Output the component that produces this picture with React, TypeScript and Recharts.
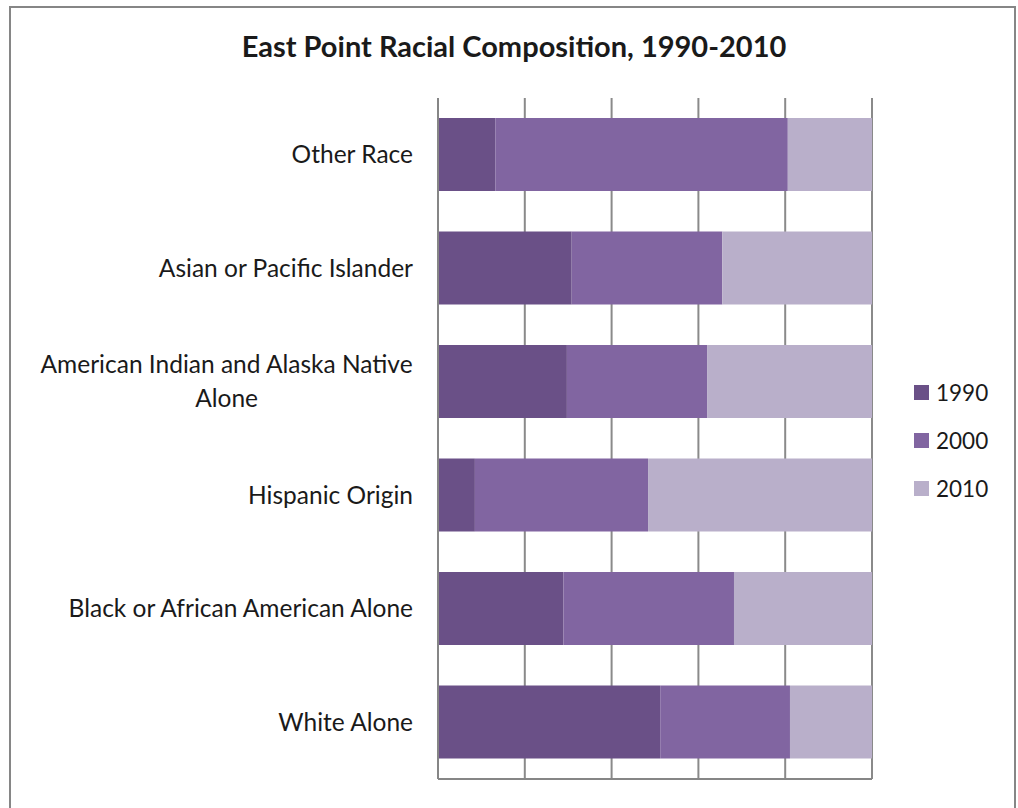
import React from 'react';
import { BarChart, Bar, XAxis, YAxis, CartesianGrid } from 'recharts';

// values (share of each group, in percent)
const categories = [
  'Other Race',
  'Asian or Pacific Islander',
  'American Indian and Alaska Native Alone',
  'Hispanic Origin',
  'Black or African American Alone',
  'White Alone',
];
const y1990 = [13.2, 30.8, 29.7, 8.5, 28.9, 51.2];
const y2000 = [67.4, 34.7, 32.3, 39.9, 39.3, 29.9];
const y2010 = [19.4, 34.5, 38.0, 51.6, 31.8, 18.9];
const seriesNames = ['1990', '2000', '2010'];
const xTicks = [0, 0.2, 0.4, 0.6, 0.8, 1];

const colors = ['#6a5087', '#8165a1', '#b9afca'];
const FONT = 'Lato, "Open Sans", sans-serif';
const LABEL_SIZE = 24.5;
const WRAP_WIDTH = 400;

const data = categories.map((name, i) => ({
  name,
  '1990': y1990[i],
  '2000': y2000[i],
  '2010': y2010[i],
}));

let measureCtx: CanvasRenderingContext2D | null = null;
function textWidth(s: string) {
  if (!measureCtx) measureCtx = document.createElement('canvas').getContext('2d');
  if (!measureCtx) return s.length * LABEL_SIZE * 0.5;
  measureCtx.font = `${LABEL_SIZE}px Lato`;
  return measureCtx.measureText(s).width;
}

function wrap(label: string) {
  const words = label.split(' ');
  const lines: string[] = [];
  let cur = '';
  words.forEach(w => {
    const next = cur ? cur + ' ' + w : w;
    if (cur && textWidth(next) > WRAP_WIDTH) {
      lines.push(cur);
      cur = w;
    } else {
      cur = next;
    }
  });
  if (cur) lines.push(cur);
  return lines;
}

const CategoryTick = (props: any) => {
  const { x, y, payload } = props;
  const lines = wrap(payload.value);
  const right = x - 17;
  const lineH = 34;
  if (lines.length === 1) {
    return (
      <text x={right} y={y} dy="0.35em" textAnchor="end" fontFamily={FONT} fontSize={LABEL_SIZE} fill="#1a1a1a">
        {lines[0]}
      </text>
    );
  }
  const center = right - textWidth(lines[0]) / 2;
  const top = y - ((lines.length - 1) * lineH) / 2;
  return (
    <g>
      {lines.map((l, i) => (
        <text
          key={i}
          x={center}
          y={top + i * lineH}
          dy="0.35em"
          textAnchor="middle"
          fontFamily={FONT}
          fontSize={LABEL_SIZE}
          fill="#1a1a1a"
        >
          {l}
        </text>
      ))}
    </g>
  );
};

export default function App() {
  return (
    <div style={{ position: 'absolute', left: 0, top: 0, width: 1018, height: 808, background: '#fff', overflow: 'hidden' }}>
      <div
        style={{
          position: 'absolute',
          left: 9,
          top: 6,
          width: 1007,
          height: 820,
          border: '2px solid #868686',
          boxSizing: 'border-box',
        }}
      />
      <div
        style={{
          position: 'absolute',
          left: 0,
          top: 28,
          width: 1028,
          textAlign: 'center',
          fontFamily: FONT,
          fontWeight: 700,
          fontSize: 29,
          color: '#1a1a1a',
        }}
      >
        East Point Racial Composition, 1990-2010
      </div>
      <div style={{ position: 'absolute', left: 0, top: 0 }}>
        <BarChart
          width={1018}
          height={808}
          data={data}
          layout="vertical"
          stackOffset="expand"
          barCategoryGap="17.7%"
          margin={{ top: 98, right: 146, bottom: 20, left: 0 }}
        >
          <CartesianGrid horizontal={false} stroke="#8a8a8a" strokeWidth={2} />
          <XAxis
            type="number"
            domain={[0, 1]}
            ticks={xTicks}
            tick={() => <g />}
            tickLine={false}
            height={9}
            axisLine={{ stroke: '#868686', strokeWidth: 2 }}
          />
          <YAxis
            type="category"
            dataKey="name"
            width={438}
            interval={0}
            tickLine={false}
            axisLine={{ stroke: '#868686', strokeWidth: 2 }}
            tick={<CategoryTick />}
          />
          {seriesNames.map((s, i) => (
            <Bar key={s} dataKey={s} stackId="a" fill={colors[i]} isAnimationActive={false} />
          ))}
        </BarChart>
      </div>
      <div
        style={{
          position: 'absolute',
          left: 914,
          top: 368,
          fontFamily: FONT,
          fontSize: 22.5,
          color: '#1a1a1a',
        }}
      >
        {seriesNames.map((s, i) => (
          <div key={s} style={{ display: 'flex', alignItems: 'center', height: 48 }}>
            <span style={{ width: 15, height: 15, background: colors[i], display: 'inline-block', marginRight: 7 }} />
            <span>{s}</span>
          </div>
        ))}
      </div>
    </div>
  );
}
